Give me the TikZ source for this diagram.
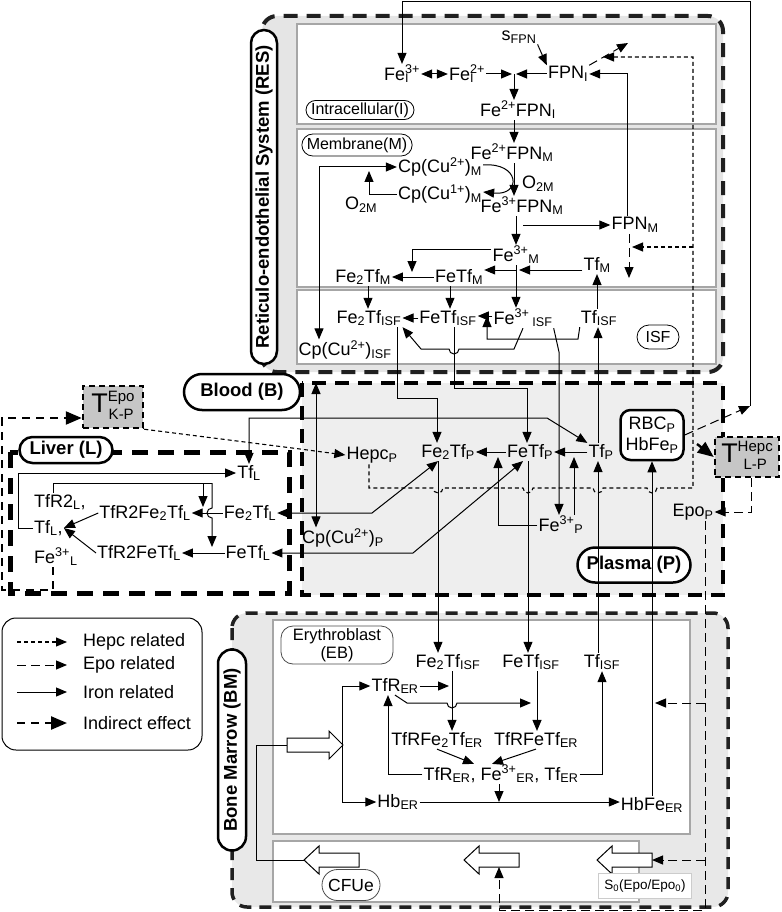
\documentclass[tikz,border=0pt]{standalone}
\usepackage{fontspec}
\setmainfont{Liberation Sans}
\usetikzlibrary{arrows.meta,shapes.misc}

\newcommand{\sps}[2]{\rlap{\textsubscript{#2}}\textsuperscript{#1}}
\newcommand{\Ttrans}[2]{{\fontsize{27}{27}\selectfont T}\raisebox{-7pt}{\fontsize{15}{18}\selectfont\begin{tabular}[b]{@{}c@{}}#1\\#2\end{tabular}}}

\tikzset{
  region/.style={draw,rounded rectangle,fill=white,line width=2.5pt,inner sep=2pt,font=\bfseries\fontsize{18.5}{20}\selectfont},
  tag/.style={draw,rounded rectangle,fill=white,line width=0.8pt,inner sep=2pt,font=\fontsize{16}{18}\selectfont},
  transfer/.style={draw,fill=gray!45,line width=2.5pt,dash pattern=on 6pt off 4pt,inner sep=0pt},
  compart/.style={draw=gray!70,line width=1.8pt,fill=white},
}

\begin{document}
\begin{tikzpicture}[x=1pt,y=-1pt,>={Triangle[length=11pt,width=9pt]},
  every node/.style={font=\fontsize{18}{21}\selectfont,inner sep=1pt},
  iron/.style={line width=1pt},
  hepc/.style={line width=1.1pt,dash pattern=on 4pt off 3pt},
  epo/.style={line width=1pt,dash pattern=on 9pt off 5pt},
  indir/.style={line width=2.4pt,dash pattern=on 8pt off 6pt,>={Triangle[length=16pt,width=13pt]}}]
\useasboundingbox (0,0) rectangle (781,912);

% compartments
\draw[draw=gray!25!black,fill=gray!20,line width=4pt,dash pattern=on 14pt off 9pt,rounded corners=15pt] (262,16) rectangle (723,372);
\draw[fill=gray!13,line width=4.5pt,dash pattern=on 14pt off 9pt] (302,383) rectangle (723,595);
\draw[draw=gray!25!black,fill=gray!18,line width=3.5pt,dash pattern=on 12pt off 8pt,rounded corners=15pt] (232,613) rectangle (728,907);
\draw[line width=5pt,dash pattern=on 16pt off 10pt] (10,452) rectangle (289,593);
\draw[compart] (297,24) rectangle (716,124);
\draw[compart] (297,129) rectangle (716,287);
\draw[compart] (297,290) rectangle (716,364);
\draw[compart] (273,620) rectangle (690,834);
\draw[compart] (273,841) rectangle (639,902);

% labels of the compartments
\node[region,rotate=90,minimum width=338pt,minimum height=26pt] (lblRES) at (264,197) {Reticulo-endothelial System (RES)};
\node[region,minimum width=120pt,minimum height=36pt] (lblB) at (242,392) {Blood (B)};
\node[region,minimum width=97pt,minimum height=26pt] (lblL) at (66,450) {Liver (L)};
\node[region,minimum width=117pt,minimum height=35pt] (lblP) at (634,565) {Plasma (P)};
\node[region,rotate=90,minimum width=205pt,minimum height=28pt] (lblBM) at (232,750) {Bone Marrow (BM)};
\node[tag,minimum width=112pt,minimum height=19pt] (lblI) at (360,110) {Intracellular(I)};
\node[tag,minimum width=107pt,minimum height=22pt] (lblM) at (357,145) {Membrane(M)};
\node[tag,minimum width=46pt,minimum height=24pt] (lblISF) at (658,337) {ISF};
\node[draw=gray!60!black,line width=0.8pt,rounded corners=12pt,fill=white,align=center,minimum width=112pt,minimum height=38pt,font=\fontsize{16.5}{18}\selectfont,inner sep=0pt] (lblEB) at (337,645) {Erythroblast\\(EB)};
\node[tag,draw=gray!60!black,minimum width=62pt,minimum height=31pt,font=\fontsize{17.5}{18}\selectfont] (lblCFUe) at (351,885) {CFUe};

% intracellular
\node (FeIthree) at (402,74) {Fe\sps{3+}{I}};
\node (FeItwo) at (467,74) {Fe\sps{2+}{I}};
\node (FPNI) at (568,74) {FPN\textsubscript{I}};
\node (sFPN) at (519,37) {s\textsubscript{FPN}};
\node (FeFPNI) at (518,110) {Fe\textsuperscript{2+}FPN\textsubscript{I}};
\coordinate (jI) at (514,74);
% membrane
\node (FeFPNM) at (512,153) {Fe\textsuperscript{2+}FPN\textsubscript{M}};
\node (CpMtwo) at (440,167) {Cp(Cu\textsuperscript{2+})\textsubscript{M}};
\node (CpMone) at (440,194) {Cp(Cu\textsuperscript{1+})\textsubscript{M}};
\node (Otwoa) at (538,184) {O\textsubscript{2M}};
\node (Otwob) at (361,205) {O\textsubscript{2M}};
\node (FeThreeFPNM) at (522,206) {Fe\textsuperscript{3+}FPN\textsubscript{M}};
\node (FPNM) at (635,225) {FPN\textsubscript{M}};
\node (FeThreeM) at (516,255) {Fe\textsuperscript{3+}\textsubscript{M}};
\node (FeTwoTfM) at (363,277) {Fe\textsubscript{2}Tf\textsubscript{M}};
\node (FeTfM) at (459,277) {FeTf\textsubscript{M}};
\node (TfM) at (597,265) {Tf\textsubscript{M}};
% interstitial fluid
\node (FeTwoTfISF) at (369,318) {Fe\textsubscript{2}Tf\textsubscript{ISF}};
\node (FeTfISF) at (448,318) {FeTf\textsubscript{ISF}};
\node (FeThreeISF) at (523,318) {Fe\textsuperscript{3+}\,\textsubscript{ISF}};
\node (TfISF) at (599,318) {Tf\textsubscript{ISF}};
\node (CpISF) at (345,350) {Cp(Cu\textsuperscript{2+})\textsubscript{ISF}};

% plasma
\node (HepcP) at (372,455) {Hepc\textsubscript{P}};
\node (FeTwoTfP) at (448,452) {Fe\textsubscript{2}Tf\textsubscript{P}};
\node (FeTfP) at (530,452) {FeTf\textsubscript{P}};
\node (TfP) at (601,452) {Tf\textsubscript{P}};
\node (FeThreeP) at (561,525) {Fe\textsuperscript{3+}\textsubscript{P}};
\node (CpP) at (343,538) {Cp(Cu\textsuperscript{2+})\textsubscript{P}};
\node (EpoP) at (693,512) {Epo\textsubscript{P}};
\node[draw,line width=2.5pt,rounded corners=10pt,fill=white,align=center,minimum width=63pt,minimum height=50pt,font=\fontsize{18}{21}\selectfont] (RBC) at (652,435) {RBC\textsubscript{P}\\HbFe\textsubscript{P}};
\node[transfer,minimum width=60pt,minimum height=42pt] (TEpo) at (113,407) {\Ttrans{Epo}{K-P}};
\node[transfer,minimum width=64pt,minimum height=40pt] (THepc) at (747,457) {\Ttrans{Hepc}{L-P}};

% liver
\node (TfL) at (249,473) {Tf\textsubscript{L}};
\node[anchor=west] (TfRtwoL) at (33,502) {TfR2\textsubscript{L},};
\node[anchor=west] (TfLc) at (33,528) {Tf\textsubscript{L},};
\node[anchor=west] (FeThreeL) at (33,557) {Fe\textsuperscript{3+}\textsubscript{L}};
\node (TfRtwoFeTwoTfL) at (145,513) {TfR2Fe\textsubscript{2}Tf\textsubscript{L}};
\node (TfRtwoFeTfL) at (139,553) {TfR2FeTf\textsubscript{L}};
\node (FeTwoTfL) at (250,513) {Fe\textsubscript{2}Tf\textsubscript{L}};
\node (FeTfL) at (248,553) {FeTf\textsubscript{L}};

% erythroblast
\node (FeTwoTfEB) at (448,662) {Fe\textsubscript{2}Tf\textsubscript{ISF}};
\node (FeTfEB) at (531,662) {FeTf\textsubscript{ISF}};
\node (TfEB) at (602,662) {Tf\textsubscript{ISF}};
\node (TfRER) at (395,686) {TfR\textsubscript{ER}};
\node (TfRFeTwoTfER) at (437,740) {TfRFe\textsubscript{2}Tf\textsubscript{ER}};
\node (TfRFeTfER) at (536,740) {TfRFeTf\textsubscript{ER}};
\node (ERpool) at (501,774) {TfR\textsubscript{ER}, Fe\textsuperscript{3+}\textsubscript{ER}, Tf\textsubscript{ER}};
\node (HbER) at (398,802) {Hb\textsubscript{ER}};
\node (HbFeER) at (652,805) {HbFe\textsubscript{ER}};

% block arrows (maturation)
\draw[line width=1pt,fill=white] (287,738) -- (329,738) -- (329,731) -- (343,745) -- (329,759) -- (329,752) -- (287,752) -- cycle;
\coordinate (ebTail) at (287,745);
\coordinate (ebTip) at (342,745);
\foreach \t [count=\i] in {304,464,597} {
  \draw[line width=1pt,fill=white] (\t,860) -- (\t+15,846) -- (\t+15,853) -- (\t+55,853) -- (\t+55,867) -- (\t+15,867) -- (\t+15,874) -- cycle;
  \coordinate (cfTip\i) at (\t,860);
  \coordinate (cfTail\i) at (\t+55,860);
  \coordinate (cfBot\i) at (\t+35,867);
}
\node[draw=gray!40,line width=0.6pt,fill=white,minimum width=93pt,minimum height=25pt,font=\fontsize{13.5}{15}\selectfont] (Szero) at (645,886) {S\textsubscript{0}(Epo/Epo\textsubscript{0})};

% legend
\draw[line width=1pt,rounded corners=14pt] (2,618) rectangle (202,750);
\foreach \st/\txt/\yy [count=\i] in {hepc/Hepc related/642,epo/Epo related/665,iron/Iron related/692,indir/Indirect effect/723} {
  \node[anchor=west] (lg\i) at (82,\yy) {\txt};
  \draw[\st,->] ([xshift=-65pt]lg\i.west) -- ([xshift=-15pt]lg\i.west);
}

% ---- connectors ----
\coordinate (rbcOut) at (750,406);
\draw[epo,->] (RBC.east) -- (rbcOut);
\draw[iron,->] (rbcOut) -- (750,2) -- (402,2) -- (FeIthree.north -| 402,0);
\draw[iron,<->] (FeIthree) -- (FeItwo);
\draw[iron,->] (FeItwo) -- ([xshift=-2pt]jI);
\draw[iron,->] (FPNI) -- ([xshift=2pt]jI);
\draw[iron,->] (jI) -- (FeFPNI.north -| jI);
\draw[iron,->] (sFPN.south east) -- (FPNI.north west);
\draw[iron,->] (FPNM.north -| 627,0) -- (627,74) -- (FPNI.east);
\coordinate (fpnIdeg) at (628,43);
\coordinate (fpnMdeg) at (629,278);
\draw[epo,->] (FPNI.north east) -- (fpnIdeg);
\draw[epo,->] (FPNM.south -| 629,0) -- (fpnMdeg);

% hepcidin
\draw[hepc,->] (HepcP.south -| 369,0) -- (369,488) -- (433,488) arc(180:0:5) -- (523,488) arc(180:0:5) -- (593,488) arc(180:0:5) -- (647,488) arc(180:0:5) -- (693,488) -- (693,57) -- (603,57);
\draw[hepc,->] (693,247) -- (632,247);
\draw[hepc,->] (TEpo.south east) -- (300,449) -- (HepcP.west);

% membrane
\draw[iron,->] (FeFPNI.south -| 514,0) -- (FeFPNM.north -| 514,0);
\draw[iron,->] (FeFPNM.south -| 514,0) -- (FeThreeFPNM.north -| 514,0);
\draw[iron,->] ([yshift=2pt]CpMtwo.east) .. controls (520,162) and (522,196) .. ([yshift=2pt]CpMone.east);
\draw[iron,->] (CpMone.west) -| (369,171);
\draw[iron,<->] (CpMtwo.west) -| (CpISF.north -| 319,0);
\draw[iron,->] (FeThreeFPNM.south -| 516,0) -- (FeThreeM.north -| 516,0);
\draw[iron,->] (FPNM.west -| 523,0) -- (FPNM.west);
\draw[iron,->] (FeThreeM.west |- 0,249) -| (412,272);
\draw[iron,->] (FeTfM) -- (FeTwoTfM);
\coordinate (jM) at (516,270);
\draw[iron,->] (TfM.west |- jM) -- ([xshift=3pt]jM);
\draw[iron,->] (jM) -- (FeTfM.east |- jM);
\draw[iron,->] (FeThreeM.south -| 516,0) -- (FeThreeISF.north -| 516,0);
\draw[iron,->] (FeTwoTfM.south -| 368,0) -- (FeTwoTfISF.north -| 368,0);
\draw[iron,->] (FeTfM.south -| 450,0) -- (FeTfISF.north -| 450,0);
\draw[iron,->] (TfISF.north -| 597,0) -- (TfM.south -| 597,0);

% interstitial fluid
\draw[iron,->] (FeTfISF) -- (FeTwoTfISF);
\coordinate (jISF) at (487,316);
\draw[iron,->] (FeThreeISF.west |- jISF) -- (FeTfISF.east |- jISF);
\draw[iron,->] (TfISF.south west) -- (578,339) -- (487,339) -- (jISF);
\draw[iron,->] (FeThreeISF.south) -- (514,349) -- (459,349) arc(0:180:5) -- (421,349) -- (FeTwoTfISF.south east);
\draw[iron,->] (FeTwoTfISF.south -| 397,0) |- (437,398) -- (FeTwoTfP.north -| 437,0);
\draw[iron,->] (FeTfISF.south -| 454,0) |- (527,388) -- (FeTfP.north -| 527,0);
\draw[iron,->] (FeThreeISF.south east) -- (559,352) -- (FeThreeP.north -| 559,0);
\draw[iron,->] (TfP.north -| 598,0) -- (TfISF.south -| 598,0);

% plasma
\draw[iron,<->] (TfL.north) -- (TfL.north |- 0,418) -- (547,418) -- (TfP.north west);
\draw[iron,<->] (FeTwoTfL.east) -- (372,513) -- (438,0 |- FeTwoTfP.south);
\draw[iron,<->] (FeTfL.east) -- (413,553) -- (523,0 |- FeTfP.south);
\coordinate (cpTop) at (316,383);
\draw[iron,<->] (cpTop) -- (CpP.north -| cpTop);
\draw[iron,->] (FeTfP) -- (FeTwoTfP);
\draw[iron,->] (TfP) -- (FeTfP);
\draw[iron,->] (FeThreeP.north -| 574,0) -- (574,457);
\draw[iron,->] (FeThreeP.west) -| (498,457);
\draw[iron,->] (FeTwoTfP.south -| 438,0) -- (FeTwoTfEB.north -| 438,0);
\draw[iron,->] (FeTfP.south -| 528,0) -- (FeTfEB.north -| 528,0);
\draw[iron,->] (TfEB.north -| 598,0) -- (TfP.south -| 598,0);
\draw[iron,->] (HbFeER.north -| 652,0) -- (RBC.south -| 652,0);

% erythropoietin
\draw[epo,->] (THepc.south -| 751,0) |- (EpoP.east);
\draw[epo,->] (EpoP.south -| 705,0) -- (705,910) -| (cfBot2);
\draw[epo,->] (705,860) -- (cfTail3);
\draw[epo,->] (705,703) -- (655,703);
\draw[indir,->] (697,444) -- (THepc.west);

% liver
\draw[iron,->] (TfLc.west) -| (18,0 |- TfL.west) -- (TfL.west);
\draw[iron] (TfRtwoL.north -| 53,0) |- (212,483);
\draw[iron,->] (203,483) -- (203,507);
\draw[iron,->] (212,483) -- (212,508) arc(270:90:5) -- (212,547);
\draw[iron,->] (FeTwoTfL) -- (TfRtwoFeTwoTfL);
\draw[iron,->] (FeTfL) -- (TfRtwoFeTfL);
\draw[iron,->] (TfRtwoFeTwoTfL.west) -- (TfLc.east);
\draw[iron,->] (TfRtwoFeTfL.west) -- (TfLc.east);
\draw[indir,->] (FeThreeL.south -| 53,0) |- (2,590) |- (TEpo.west |- 0,418);

% bone marrow
\draw[iron,->] (TfRER.east) -- (449,0 |- TfRER.east);
\draw[iron,->] (TfRER.south) -- (407,703) -- (447,703) arc(180:0:5) -- (531,703);
\draw[iron,->] (FeTwoTfEB.south -| 452,0) -- (TfRFeTwoTfER.north -| 452,0);
\draw[iron,->] (FeTfEB.south -| 537,0) -- (TfRFeTfER.north -| 537,0);
\draw[iron,->] (TfRFeTwoTfER.south) -- ([xshift=-27pt]ERpool.north);
\draw[iron,->] (TfRFeTfER.south) -- ([xshift=-9pt]ERpool.north);
\draw[iron,->] (ERpool.west) -| (TfRER.south -| 388,0);
\draw[iron,->] (ERpool.east) -| (TfEB.south -| 602,0);
\draw[iron,->] (ERpool.south -| 499,0) -- (499,802);
\draw[iron,->] (HbER.east) -- (HbFeER.west |- HbER.east);
\draw[iron,->] (ebTip) |- (TfRER.west);
\draw[iron,->] (ebTip) |- (HbER.west);
\draw[iron] (cfTip1) -- (256,860) |- (ebTail);
\end{tikzpicture}
\end{document}
